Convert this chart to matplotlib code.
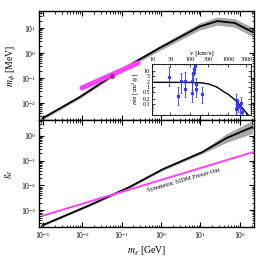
import numpy as np
import matplotlib
matplotlib.use("Agg")
import matplotlib.pyplot as plt
from matplotlib.ticker import LogLocator, NullFormatter, FixedLocator, FixedFormatter

plt.rcParams['font.family'] = ['Liberation Serif', 'DejaVu Serif']
plt.rcParams['mathtext.fontset'] = 'stix'

# top panel: mediator mass vs DM mass
m_chi_top = [1e-3, 8.7e-3, 5.6e-2, 2.2e-1, 9.3e-1, 9.6, 27.0, 74.0, 210.0]
m_phi = [2.5e-3, 1.75e-2, 1.2e-1, 4.4e-1, 1.6, 11.5, 19.0, 16.0, 7.0]
m_phi_err = [0.06, 0.06, 0.07, 0.08, 0.10, 0.14, 0.16, 0.17, 0.18]  # band half-width, decades

# magenta band + best point
m_chi_mag = [9.8e-3, 2.6e-1]
m_phi_mag = [4.0e-2, 4.0e-1]
best_pt = (5.6e-2, 1.2e-1)

# bottom panel: coupling vs DM mass
m_chi_bot = [1e-3, 1.55e-2, 1.6e-1, 1.1, 11.0, 47.0, 210.0]
g_chi = [2.5e-4, 1.6e-3, 8.7e-3, 4.5e-2, 2.2e-1, 8.3e-1, 2.3]
g_chi_err = [0.04, 0.04, 0.04, 0.05, 0.06, 0.18, 0.26]
m_chi_fo = [1e-3, 215.0]
g_fo = [6.0e-4, 2.2e-1]

# inset: sigma/m vs velocity
v_curve = [10, 100, 200, 300, 500, 760, 1000, 1500, 2100, 3000, 3500]
s_curve = [2.0, 1.97, 1.85, 1.6, 1.05, 0.55, 0.38, 0.18, 0.076, 0.03, 0.02]
v_pts = [28.6, 49, 58, 71, 74, 115, 115, 122, 130, 128, 144, 144, 207,
         1585, 1620, 1700, 1800, 2000, 2150, 2290]
s_pts = [4.4, 0.32, 2.4, 2.5, 0.76, 2.5, 0.48, 6.9, 18.0, 12.0, 1.6, 0.76, 0.38,
         0.17, 0.048, 0.10, 0.076, 0.063, 0.12, 0.035]
s_hi = [15.8, 1.0, 7.6, 8.3, 1.9, 7.6, 1.74, 13.8, 30.0, 22.0, 3.5, 1.9, 1.0,
        0.40, 0.10, 0.19, 0.17, 0.14, 0.28, 0.069]
s_lo = [1.2, 0.083, 0.48, 0.69, 0.25, 0.69, 0.126, 3.0, 7.6, 5.5, 0.63, 0.28, 0.12,
        0.069, 0.025, 0.044, 0.035, 0.025, 0.048, 0.022]
inset_yticks = [0.1, 0.2, 0.5, 1, 2, 5, 10]
inset_xticks = [10, 30, 100, 300, 1000, 3000]

fig = plt.figure(figsize=(2.6, 2.59), dpi=100)
ax1 = fig.add_axes([0.15, 0.5367, 0.827, 0.4208])
ax2 = fig.add_axes([0.15, 0.1236, 0.827, 0.4131], sharex=ax1)

gray = '#a8a8a8'
mag = '#ff40ff'

def style(ax):
    ax.set_xscale('log')
    ax.set_yscale('log')
    ax.tick_params(which='both', direction='in', top=True, right=True, labelsize=5.5, pad=2)
    ax.tick_params(which='major', length=3.5, width=0.8)
    ax.tick_params(which='minor', length=1.8, width=0.6)
    ax.xaxis.set_minor_locator(LogLocator(subs=np.arange(2, 10), numticks=20))
    ax.yaxis.set_minor_locator(LogLocator(subs=np.arange(2, 10), numticks=20))
    for s in ax.spines.values():
        s.set_linewidth(1.0)

# top panel
x = np.array(m_chi_top)
y = np.array(m_phi)
e = 10 ** np.array(m_phi_err)
ax1.fill_between(x, y / e, y * e, color=gray, lw=0)
ax1.plot(x, y, color='black', lw=1.3)
ax1.plot(m_chi_mag, m_phi_mag, color=mag, lw=3.6, solid_capstyle='round')
ax1.plot(*best_pt, 'o', color='#a020a0', ms=2.5)
style(ax1)
ax1.set_xlim(8e-4, 230)
ax1.set_ylim(2.1e-3, 48)
ax1.yaxis.set_major_locator(FixedLocator([1e-2, 1e-1, 1, 10]))
ax1.yaxis.set_minor_locator(LogLocator(subs=np.arange(2, 10), numticks=20))
plt.setp(ax1.get_xticklabels(), visible=False)
ax1.set_ylabel(r'$m_\phi$ [MeV]', fontsize=7, labelpad=2)

# bottom panel
x = np.array(m_chi_bot)
y = np.array(g_chi)
e = 10 ** np.array(g_chi_err)
ax2.fill_between(x, y / e, y * e, color=gray, lw=0)
ax2.plot(x, y, color='black', lw=1.3)
ax2.plot(m_chi_fo, g_fo, color=mag, lw=1.4)
style(ax2)
ax2.set_ylim(2.1e-4, 4.4)
ax2.yaxis.set_major_locator(FixedLocator([1e-3, 1e-2, 1e-1, 1]))
ax2.yaxis.set_minor_locator(LogLocator(subs=np.arange(2, 10), numticks=20))
ax2.xaxis.set_major_locator(FixedLocator([1e-3, 1e-2, 1e-1, 1, 10, 100]))
ax2.set_ylabel(r'$g_\chi$', fontsize=7, labelpad=4)
ax2.set_xlabel(r'$m_\chi$ [GeV]', fontsize=7, labelpad=3)
ax2.text(3.8, 1.6e-2, 'Symmetric SIDM Freeze Out', fontsize=4.6, rotation=16,
         ha='center', va='center')

# inset
axi = fig.add_axes([0.585, 0.556, 0.381, 0.197])
axi.plot(v_curve, s_curve, color='black', lw=1.0)
s_pts_a = np.array(s_pts)
yerr = [s_pts_a - np.array(s_lo), np.array(s_hi) - s_pts_a]
axi.errorbar(v_pts, s_pts, yerr=yerr, fmt='s', color='#3333ff', ms=1.3,
             elinewidth=0.6, capsize=1.0, capthick=0.5)
axi.set_xscale('log')
axi.set_yscale('log')
axi.set_xlim(10, 4000)
axi.set_ylim(0.022, 25)
axi.xaxis.set_major_locator(FixedLocator(inset_xticks))
axi.xaxis.set_major_formatter(FixedFormatter([str(t) for t in inset_xticks]))
axi.xaxis.set_minor_formatter(NullFormatter())
axi.yaxis.set_major_locator(FixedLocator(inset_yticks))
axi.yaxis.set_major_formatter(FixedFormatter([str(t) for t in inset_yticks]))
axi.yaxis.set_minor_formatter(NullFormatter())
axi.tick_params(which='both', direction='in', top=True, right=True, bottom=True,
                labeltop=True, labelbottom=False, labelsize=4.3, pad=1.5)
axi.tick_params(which='major', length=2, width=0.5)
axi.tick_params(which='minor', length=1, width=0.4)
axi.xaxis.set_label_position('top')
axi.set_xlabel('v [km/s]', fontsize=5, labelpad=2)
axi.set_ylabel(r'$\sigma/m$ [cm$^2$/g]', fontsize=4.5, labelpad=1)
for s in axi.spines.values():
    s.set_linewidth(0.6)

fig.savefig('out.png', dpi=100)
